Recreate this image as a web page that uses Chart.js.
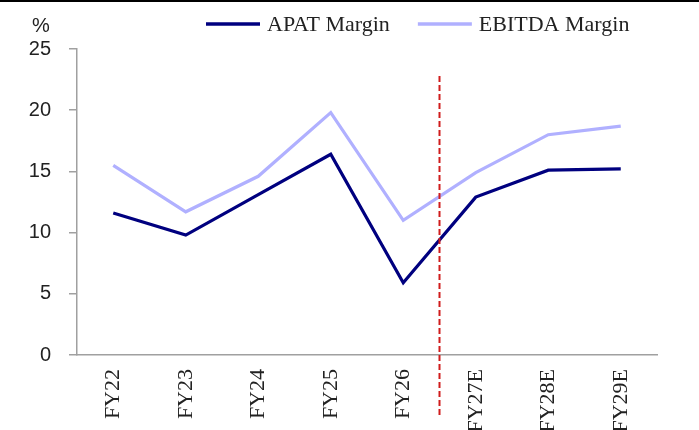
<!DOCTYPE html>
<html>
<head>
<meta charset="utf-8">
<script src="https://cdn.jsdelivr.net/npm/chart.js@4/dist/chart.umd.min.js"></script>
<style>
  html, body { margin: 0; padding: 0; background: #fff; }
  #wrap { position: relative; width: 699px; height: 430px; overflow: hidden; }
  #topline { position: absolute; left: 0; top: 0; width: 699px; height: 2px; background: #000; }
  canvas { display: block; }
</style>
</head>
<body>
<div id="wrap">
  <canvas id="c" width="699" height="430"></canvas>
  <div id="topline"></div>
</div>
<script>
const categories = ["FY22", "FY23", "FY24", "FY25", "FY26", "FY27E", "FY28E", "FY29E"];
const apatMargin = [11.6, 9.8, 13.1, 16.4, 5.9, 12.9, 15.1, 15.2];
const ebitdaMargin = [15.5, 11.7, 14.6, 19.8, 11.0, 14.9, 18.0, 18.7];
const yTicks = [0, 5, 10, 15, 20, 25];
const unitLabel = "%";
const dividerIndex = 4.5;     // between FY26 and FY27E (actuals vs estimates)
const dividerTopValue = 22.8;

const serif = "'Liberation Serif', 'Times New Roman', serif";
const sans = "'Liberation Sans', Arial, sans-serif";

const overlay = {
  id: 'overlay',
  afterDraw(chart) {
    const ctx = chart.ctx;
    const x = chart.scales.x, y = chart.scales.y;
    // dashed divider
    ctx.save();
    ctx.strokeStyle = '#d01c1c';
    ctx.lineWidth = 2;
    ctx.setLineDash([6, 3]);
    const px = x.getPixelForValue(dividerIndex);
    ctx.beginPath();
    ctx.moveTo(px, y.getPixelForValue(dividerTopValue));
    ctx.lineTo(px, chart.chartArea.bottom + 62);
    ctx.stroke();
    ctx.restore();

    // unit label
    ctx.save();
    ctx.fillStyle = '#222';
    ctx.font = "20px " + sans;
    ctx.textBaseline = 'middle';
    ctx.textAlign = 'left';
    ctx.fillText(unitLabel, 32, 26);
    ctx.restore();

    // legend
    ctx.save();
    ctx.font = "22px " + serif;
    ctx.textBaseline = 'middle';
    ctx.textAlign = 'left';
    let lx = 206;
    const ly = 24;
    chart.data.datasets.forEach((ds, i) => {
      ctx.strokeStyle = ds.borderColor;
      ctx.lineWidth = 3.5;
      ctx.setLineDash([]);
      ctx.beginPath();
      ctx.moveTo(lx, ly);
      ctx.lineTo(lx + 54, ly);
      ctx.stroke();
      ctx.fillStyle = '#222';
      ctx.fillText(ds.label, lx + 61, ly + 1);
      const w = ctx.measureText(ds.label).width;
      lx += 61 + w + 28;
    });
    ctx.restore();
  }
};

new Chart(document.getElementById('c'), {
  type: 'line',
  data: {
    labels: categories,
    datasets: [
      { label: 'APAT Margin', data: apatMargin, borderColor: '#00007f', borderWidth: 3.2,
        pointRadius: 0, tension: 0, fill: false },
      { label: 'EBITDA Margin', data: ebitdaMargin, borderColor: '#b0b0ff', borderWidth: 3.2,
        pointRadius: 0, tension: 0, fill: false }
    ]
  },
  options: {
    responsive: false,
    animation: false,
    devicePixelRatio: 1,
    layout: { padding: { top: 49, right: 42, left: 0, bottom: 0 } },
    plugins: { legend: { display: false }, tooltip: { enabled: false }, title: { display: false } },
    scales: {
      x: {
        type: 'category',
        offset: true,
        grid: { display: false, drawTicks: false },
        border: { display: true, color: '#a0a0a0', width: 1.5 },
        ticks: {
          autoSkip: false, minRotation: 90, maxRotation: 90, padding: 14,
          color: '#222', font: { family: serif, size: 22 }
        },
        afterFit(s) { s.height = 75; }
      },
      y: {
        min: 0, max: 25,
        afterBuildTicks(s) { s.ticks = yTicks.map(v => ({ value: v })); },
        grid: { drawOnChartArea: false, drawTicks: true, tickLength: 8, color: '#a0a0a0', lineWidth: 1.5 },
        border: { display: true, color: '#a0a0a0', width: 1.5 },
        ticks: { padding: 18, color: '#222', font: { family: sans, size: 20 } },
        afterFit(s) { s.width = 77; }
      }
    }
  },
  plugins: [overlay]
});
</script>
</body>
</html>
